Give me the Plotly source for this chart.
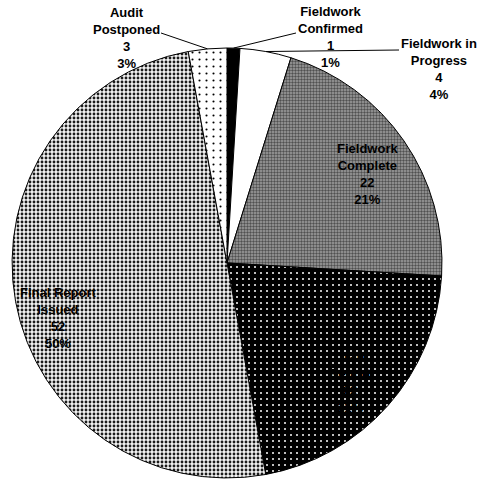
import math
import plotly.graph_objects as go

# ---- data ----
categories = ["Fieldwork Confirmed", "Fieldwork in Progress", "Fieldwork Complete",
              "Draft Report", "Final Report Issued", "Audit Postponed"]
label_lines = ["Fieldwork<br>Confirmed", "Fieldwork in<br>Progress", "Fieldwork<br>Complete",
               "Draft<br>Report", "Final Report<br>Issued", "Audit<br>Postponed"]
values = [1, 4, 22, 22, 52, 3]

# ---- styling ----
bg_colors = ["#000000", "#ffffff", "#a0a0a0", "#000000", "#f2f2f2", "#ffffff"]
pat_shapes = ["", "", ".", ".", ".", "."]
pat_fg = ["#000000", "#000000", "#505050", "#ffffff", "#1a1a1a", "#000000"]
pat_size = [4, 4, 3, 6, 4, 7]
pat_solid = [0.3, 0.3, 0.5, 0.09, 0.4, 0.07]

W, H = 481, 479
CX, CY, R = 227, 263, 215

# label anchor positions (pixels) and leader-line start points for outside labels
label_pos = [(330, 37), (439, 69), (367, 174), (350, 382), (58, 318), (126, 38)]
leader_start = [(296, 33), (399, 50), None, None, None, (161, 33)]
text_color = ["#000000"] * 6


def px(x):
    return x / W


def py(y):
    return 1 - y / H


total = sum(values)
pcts = [round(v / total * 100) for v in values]

fig = go.Figure(go.Pie(
    labels=categories,
    values=values,
    sort=False,
    direction="clockwise",
    rotation=0,
    textinfo="none",
    hoverinfo="label+value+percent",
    marker=dict(
        colors=bg_colors,
        line=dict(color="#000000", width=1),
        pattern=dict(shape=pat_shapes, fgcolor=pat_fg, bgcolor=bg_colors,
                     size=pat_size, solidity=pat_solid, fillmode="replace"),
    ),
    domain=dict(x=[px(CX - R), px(CX + R)], y=[py(CY + R), py(CY - R)]),
    showlegend=False,
))

annotations = []
shapes = []
cum = 0
for i, v in enumerate(values):
    mid = (cum + v / 2) / total * 2 * math.pi
    cum += v
    lx, ly = label_pos[i]
    annotations.append(dict(
        x=px(lx), y=py(ly), xref="paper", yref="paper",
        text="<b>%s<br>%d<br>%d%%</b>" % (label_lines[i], v, pcts[i]),
        showarrow=False, xanchor="center", yanchor="middle", align="center",
        font=dict(family="Liberation Sans, Arial, sans-serif", size=13, color=text_color[i]),
    ))
    if leader_start[i] is not None:
        ex = CX + R * math.sin(mid)
        ey = CY - R * math.cos(mid)
        sx, sy = leader_start[i]
        shapes.append(dict(type="line", xref="paper", yref="paper",
                           x0=px(sx), y0=py(sy), x1=px(ex), y1=py(ey),
                           line=dict(color="#000000", width=1)))

fig.update_layout(
    width=W, height=H,
    margin=dict(l=0, r=0, t=0, b=0),
    paper_bgcolor="#ffffff",
    plot_bgcolor="#ffffff",
    annotations=annotations,
    shapes=shapes,
)

fig.write_html("out.html")
